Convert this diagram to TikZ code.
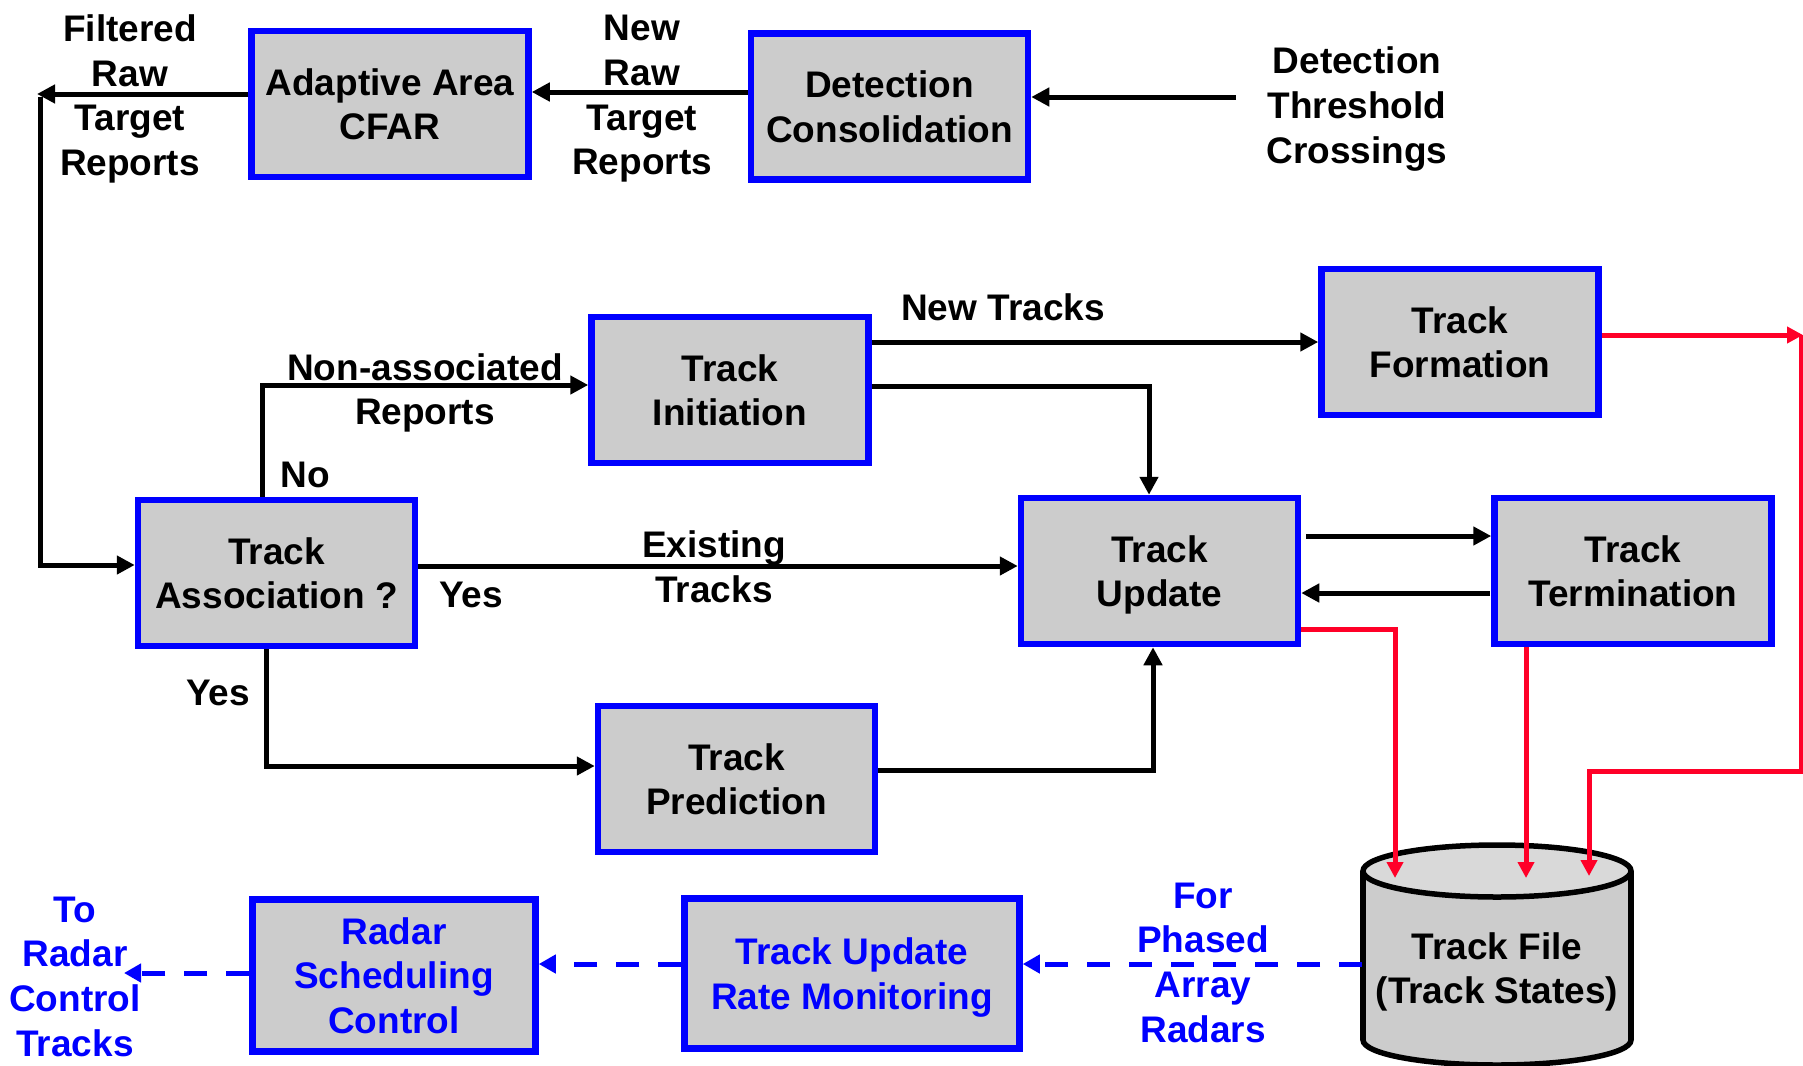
\documentclass[tikz,border=0pt]{standalone}
\usepackage{fontspec}
\setmainfont{Liberation Sans}
\usetikzlibrary{arrows.meta}
\definecolor{boxgray}{HTML}{CCCCCC}
\definecolor{topgray}{HTML}{D9D9D9}
\definecolor{bblue}{HTML}{0000FF}
\definecolor{rred}{RGB}{255,0,40}
\tikzset{
  txt/.style={font=\fontsize{37}{44.7}\selectfont\bfseries, align=center, inner sep=0pt, text depth=0pt},
  blk/.style={txt, draw=bblue, line width=6.5pt, fill=boxgray, minimum width=277pt, minimum height=146pt},
  arr/.style={line width=5pt, -{Triangle[length=18pt,width=18pt]}},
  ln/.style={line width=5pt},
  redarr/.style={draw=rred, line width=5pt, -{Triangle[length=16pt,width=16pt]}},
  redln/.style={draw=rred, line width=5pt},
  bdash/.style={draw=bblue, line width=5pt, dash pattern=on 23pt off 19pt, -{Triangle[length=17pt,width=18pt]}},
  btxt/.style={txt, text=bblue}
}
\begin{document}
\begin{tikzpicture}[x=1pt, y=-1pt]
\useasboundingbox (0,0) rectangle (1803,1065);
\fill[white] (0,0) rectangle (1803,1065);

% boxes
\node[blk] (cfar) at (390,104) {Adaptive Area\\CFAR};
\node[blk] (detcon) at (889.5,106.5) {Detection\\Consolidation};
\node[blk] (tinit) at (730,390) {Track\\Initiation};
\node[blk] (tform) at (1460,342) {Track\\Formation};
\node[blk] (tassoc) at (276.5,573) {Track\\Association ?};
\node[blk] (tupd) at (1159.5,571) {Track\\Update};
\node[blk] (tterm) at (1633,571) {Track\\Termination};
\node[blk] (tpred) at (736.5,779) {Track\\Prediction};
\node[blk, text=bblue, minimum width=283pt, minimum height=152pt] (rsc) at (394,975.5) {Radar\\Scheduling\\Control};
\node[blk, text=bblue, minimum width=335pt, minimum height=150pt] (turm) at (852,973.5) {Track Update\\Rate Monitoring};

% cylinder (track file)
\fill[boxgray] (1497,1040) ellipse [x radius=134, y radius=25];
\fill[boxgray] (1363,871) rectangle (1631,1040);
\draw[line width=5.5pt] (1363,871) -- (1363,1040);
\draw[line width=5.5pt] (1631,871) -- (1631,1040);
\begin{scope}
\clip (1300,1040) rectangle (1700,1100);
\draw[line width=5.5pt] (1497,1040) ellipse [x radius=134, y radius=25];
\end{scope}
\filldraw[fill=topgray, line width=5.5pt] (1497,871) ellipse [x radius=134, y radius=26];
\node[txt] (tfile) at (1497,968) {Track File\\(Track States)};

% labels
\node[txt] (lfilt) at (130,95) {Filtered\\Raw\\Target\\Reports};
\node[txt] (lnew) at (642,95) {New\\Raw\\Target\\Reports};
\node[txt] (lthr) at (1357,105) {Detection\\Threshold\\Crossings};
\node[txt] (lnewtr) at (1003,307) {New Tracks};
\node[txt] (lnon) at (425,389) {Non-associated\\Reports};
\node[txt] (lno) at (305,475) {No};
\node[txt] (lexist) at (714,566.5) {Existing\\Tracks};
\node[txt] (lyes1) at (471,595) {Yes};
\node[txt] (lyes2) at (218,693) {Yes};
\node[btxt] (lphased) at (1203,962.5) {For\\Phased\\Array\\Radars};
\node[btxt] (lto) at (75,976.5) {To\\Radar\\Control\\Tracks};

% coordinates
\coordinate (thr) at (1236,97);
\coordinate (fend) at (37,94);
\coordinate (ftop) at (40,97);
\coordinate (fbot) at (40,565);
\coordinate (nocorner) at (262,385);
\coordinate (yescorner) at (266,766);
\coordinate (predcorner) at (1153,770);
\coordinate (initcorner) at (1149,386);
\coordinate (redge) at (1803,335);
\coordinate (rtop) at (1801,335);
\coordinate (rbot) at (1801,771);
\coordinate (rleft) at (1589,771);
\coordinate (rin1) at (1589,876);
\coordinate (ucorner) at (1395,629);
\coordinate (rin2) at (1395,878);
\coordinate (rin3) at (1526,878);
\coordinate (toend) at (124,973);

% black connectors
\draw[arr] (thr) -- (detcon.east |- thr);
\draw[arr] (detcon.west |- 0,92) -- (cfar.east |- 0,92);
\draw[arr] (cfar.west |- fend) -- (fend);
\draw[arr] (ftop) -- (fbot) -- (tassoc.west |- fbot);
\draw[arr] (tassoc.north -| nocorner) -- (nocorner) -- (tinit.west |- nocorner);
\draw[arr] (tassoc.east |- 0,566) -- (tupd.west |- 0,566);
\draw[arr] (tassoc.south -| yescorner) -- (yescorner) -- (tpred.west |- yescorner);
\draw[arr] (tpred.east |- predcorner) -- (predcorner) -- (tupd.south -| predcorner);
\draw[arr] (tinit.east |- 0,342) -- (tform.west |- 0,342);
\draw[arr] (tinit.east |- initcorner) -- (initcorner) -- (tupd.north -| initcorner);
\draw[arr] (1306,536) -- (tterm.west |- 0,536);
\draw[arr] (1490,593) -- (tupd.east |- 0,593);

% red connectors
\draw[redarr] (tform.east |- redge) -- (redge);
\draw[redln, line join=miter] (rtop) -- (rbot) -- (rleft) -- (1589,780);
\draw[redarr] (1589,775) -- (rin1);
\draw[redarr, line join=miter] (tupd.east |- ucorner) -- (ucorner) -- (rin2);
\draw[redarr] (tterm.south -| rin3) -- (rin3);

% blue dashed connectors
\draw[bdash] (1362,964) -- (turm.east |- 0,964);
\draw[bdash] (turm.west |- 0,964) -- (rsc.east |- 0,964);
\draw[bdash] (rsc.west |- toend) -- (toend);
\end{tikzpicture}
\end{document}
